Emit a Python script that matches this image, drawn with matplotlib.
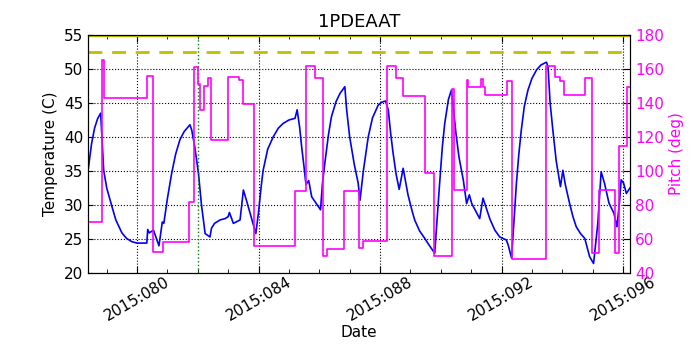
import matplotlib
matplotlib.use("Agg")
import matplotlib.pyplot as plt
from matplotlib.ticker import MultipleLocator, FuncFormatter

# temperature (C) vs day of year 2015
temp_days = [78.39, 78.5, 78.6, 78.7, 78.8, 78.9, 79.0, 79.17, 79.3, 79.5, 79.65,
             79.83, 80.0, 80.32, 80.35, 80.4, 80.54, 80.72, 80.83, 80.88, 81.0,
             81.14, 81.27, 81.41, 81.55, 81.74, 81.8, 81.9, 82.02, 82.12, 82.24,
             82.4, 82.45, 82.55, 82.73, 82.9, 83.0, 83.04, 83.17, 83.39, 83.5,
             83.6, 83.91, 84.0, 84.08, 84.15, 84.3, 84.48, 84.65, 84.81, 85.0,
             85.2, 85.27, 85.35, 85.42, 85.5, 85.56, 85.65, 85.75, 86.04, 86.1,
             86.18, 86.3, 86.4, 86.55, 86.68, 86.84, 86.9, 87.0, 87.15, 87.28,
             87.34, 87.45, 87.61, 87.75, 87.94, 88.05, 88.18, 88.27, 88.35, 88.43,
             88.53, 88.63, 88.76, 88.92, 89.05, 89.14, 89.3, 89.47, 89.6, 89.8,
             89.95, 90.05, 90.13, 90.25, 90.35, 90.42, 90.5, 90.6, 90.74, 90.85,
             90.94, 91.02, 91.28, 91.39, 91.5, 91.62, 91.78, 91.94, 92.16, 92.22,
             92.33, 92.4, 92.49, 92.57, 92.65, 92.75, 92.87, 93.0, 93.15, 93.3,
             93.48, 93.53, 93.6, 93.69, 93.8, 93.94, 94.02, 94.1, 94.24, 94.35,
             94.46, 94.6, 94.74, 94.9, 95.03, 95.17, 95.28, 95.39, 95.54, 95.7,
             95.8, 95.88, 95.94, 96.02, 96.11, 96.23]
temp_values = [35.2, 39.0, 41.3, 42.7, 43.5, 35.1, 32.5, 29.8, 27.8, 25.9, 25.1,
               24.6, 24.4, 24.4, 26.4, 25.9, 26.3, 24.0, 27.5, 27.3, 31.0,
               34.7, 37.5, 39.6, 40.8, 41.8, 41.0, 38.5, 34.7, 30.0, 25.8,
               25.3, 26.6, 27.3, 27.8, 28.0, 28.3, 28.9, 27.3, 27.8, 32.2,
               30.7, 25.8, 29.0, 32.5, 35.1, 38.2, 40.0, 41.3, 42.0, 42.5,
               42.75, 44.0, 41.5, 38.5, 35.5, 33.0, 33.6, 31.2, 29.3, 33.0,
               36.1, 40.3, 43.0, 45.2, 46.4, 47.4, 44.0, 40.0, 36.0, 33.2,
               30.7, 35.0, 40.0, 42.8, 44.7, 45.1, 45.3, 44.0, 40.5, 37.6,
               34.5, 32.3, 35.4, 31.5, 29.2, 27.8, 26.2, 25.1, 24.2, 22.9,
               32.5, 38.5, 42.0, 45.5, 46.9, 44.0, 40.5, 37.0, 33.7, 30.2,
               31.5, 30.2, 28.0, 31.0, 29.5, 27.9, 26.3, 25.3, 24.85, 24.1,
               22.2, 27.0, 33.2, 37.5, 41.0, 44.5, 46.9, 48.6, 49.85, 50.6,
               51.0, 50.3, 45.0, 41.0, 36.5, 32.7, 35.1, 33.0, 30.25, 28.3,
               26.8, 25.8, 25.1, 22.4, 21.4, 27.3, 34.9, 33.2, 30.25, 28.8,
               26.8, 30.25, 33.7, 33.2, 31.7, 32.5]

# pitch (deg) step series
pitch_days = [78.39, 78.84, 78.91, 79.6, 80.34, 80.54, 80.85, 81.71, 81.86, 82.02,
              82.08, 82.21, 82.32, 82.43, 83.0, 83.36, 83.48, 83.86, 85.2, 85.56,
              85.86, 86.13, 86.24, 86.82, 87.31, 87.44, 88.23, 88.52, 88.76, 89.47,
              89.78, 90.37, 90.45, 90.86, 90.9, 91.32, 91.39, 91.45, 92.18, 92.33,
              93.45, 93.75, 93.94, 94.05, 94.76, 94.99, 95.21, 95.73, 95.86, 96.13,
              96.23]
pitch_values = [70.2, 165.3, 142.8, 143.2, 155.9, 52.5, 58.0, 81.9, 161.0, 151.2,
                135.9, 150.2, 154.9, 118.2, 155.5, 153.5, 139.4, 56.1, 88.4, 161.8,
                154.9, 50.2, 53.9, 88.4, 54.5, 59.0, 162.0, 154.9, 144.3, 98.6,
                50.2, 148.0, 88.8, 153.5, 149.6, 154.0, 149.6, 144.5, 153.1, 48.0,
                161.8, 155.1, 152.9, 144.7, 154.9, 51.6, 88.8, 51.6, 114.7, 149.6,
                149.6]

x_ticks = [80, 84, 88, 92, 96]
marker_day = 82.02
limit_temp = 52.5


def day_label(x, pos):
    return "2015:%03d" % int(round(x))


fig = plt.figure(figsize=(7, 3.5), dpi=100)
ax = fig.add_axes([0.126, 0.22, 0.774, 0.68])
ax2 = ax.twinx()

ax.plot(temp_days, temp_values, color='b', lw=1.2)
ax.axhline(limit_temp, color='y', ls='--', lw=2, dashes=(5, 3.5))
ax.axhline(55, color='y', lw=2.5)
ax.axvline(marker_day, color='g', ls=':', lw=1)

ax2.plot(pitch_days, pitch_values, color='#ff00ff', lw=1.2, drawstyle='steps-post')

ax.set_xlim(78.39, 96.23)
ax.set_ylim(20, 55)
ax2.set_ylim(40, 180)
ax.set_xticks(x_ticks)
ax.xaxis.set_minor_locator(MultipleLocator(1))
ax.xaxis.set_major_formatter(FuncFormatter(day_label))
ax.yaxis.set_major_locator(MultipleLocator(5))
ax2.yaxis.set_major_locator(MultipleLocator(20))

ax.grid(True, color='k', ls=':', lw=0.8)
ax.tick_params(axis='both', which='both', direction='in', top=True, labelsize=11)
ax.tick_params(axis='y', right=False)
ax.tick_params(axis='x', which='major', length=5, pad=1)
ax.tick_params(axis='x', which='minor', length=3)
ax2.tick_params(axis='y', direction='in', labelsize=11, labelcolor='#ff00ff', length=5)
for lab in ax.get_xticklabels():
    lab.set_rotation(30)
    lab.set_ha('center')

ax.set_title("1PDEAAT", fontsize=13)
ax.set_xlabel("Date", fontsize=11, labelpad=1)
ax.set_ylabel("Temperature (C)", fontsize=11)
ax2.set_ylabel("Pitch (deg)", fontsize=11, color='#ff00ff')

fig.savefig("out.png", dpi=100)
